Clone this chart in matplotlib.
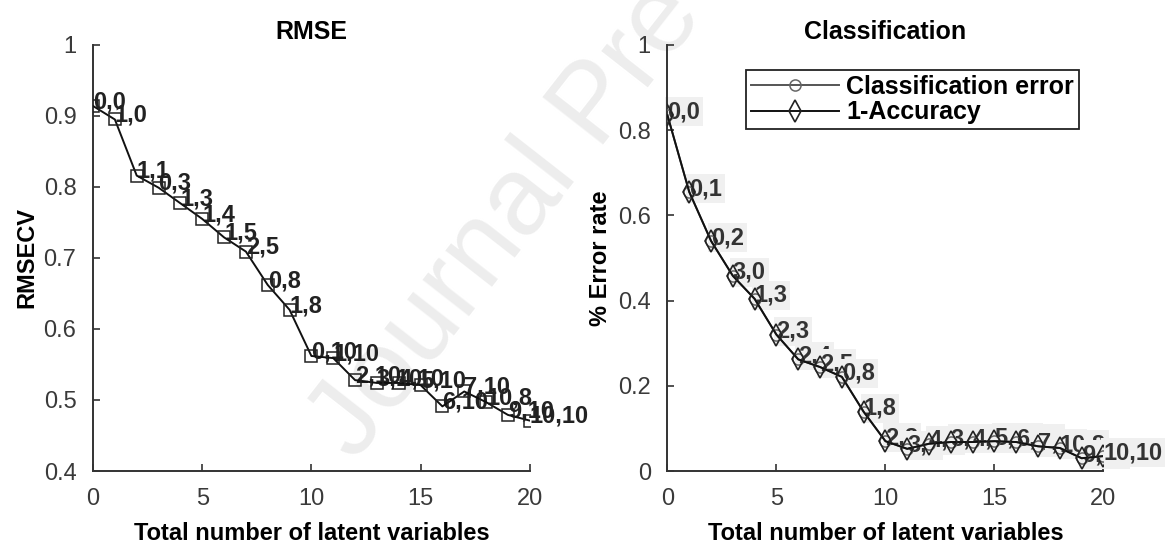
import matplotlib.pyplot as plt

plt.rcParams['font.family'] = ['Liberation Sans', 'DejaVu Sans']

# RMSE panel: RMSECV against total number of latent variables
lv = list(range(21))
rmsecv = [0.914, 0.895, 0.816, 0.799, 0.777, 0.755, 0.729, 0.709, 0.662, 0.627,
          0.562, 0.559, 0.528, 0.524, 0.524, 0.521, 0.491, 0.512, 0.497, 0.479, 0.471]
rmse_labels = ['0,0', '1,0', '1,1', '0,3', '1,3', '1,4', '1,5', '2,5', '0,8', '1,8',
               '0,10', '1,10', '2,10', '3,10', '4,10', '5,10', '6,10', '7,10', '10,8', '9,10', '10,10']

# Classification panel: error rate against total number of latent variables
class_err = [0.835, 0.655, 0.54, 0.458, 0.404, 0.32, 0.262, 0.244, 0.221, 0.139,
             0.07, 0.052, 0.064, 0.068, 0.068, 0.07, 0.068, 0.058, 0.054, 0.03, 0.035]
one_minus_acc = class_err
class_labels = ['0,0', '0,1', '0,2', '3,0', '1,3', '2,3', '2,4', '2,5', '0,8', '1,8',
                '2,8', '3,8', '4,8', '3,10', '4,10', '5,10', '6,10', '7,10', '10,8', '9,10', '10,10']

fig = plt.figure(figsize=(11.72, 5.48), dpi=100)
ax1 = fig.add_axes([0.0794, 0.1405, 0.3726, 0.7775])
ax2 = fig.add_axes([0.5695, 0.1405, 0.372, 0.7775])

# watermark behind both panels
fig.text(0.318, 0.13, 'Journal Pre-proof', fontsize=80, color='#ededed',
         rotation=52, rotation_mode='anchor', ha='left', va='bottom', zorder=-5)

for ax in (ax1, ax2):
    ax.patch.set_visible(False)
    ax.spines['top'].set_visible(False)
    ax.spines['right'].set_visible(False)
    for s in ('left', 'bottom'):
        ax.spines[s].set_color('#333333')
        ax.spines[s].set_linewidth(1.4)
    ax.tick_params(direction='in', length=5, width=1.2, color='#333333',
                   labelsize=17, labelcolor='#3a3a3a', pad=12)
    ax.set_xlim(0, 20)
    ax.set_xticks([0, 5, 10, 15, 20])
    ax.set_xlabel('Total number of latent variables', fontsize=17, fontweight='bold', labelpad=9)

ax1.plot(lv, rmsecv, color='#111111', lw=1.4, marker='s', ms=8, mfc='none', mec='#222222',
         mew=1.1, zorder=3)
for x, y, t in zip(lv, rmsecv, rmse_labels):
    ax1.text(x, y + 0.006, t, fontsize=17, fontweight='bold', color='#222222',
             ha='left', va='center', zorder=2)
ax1.set_ylim(0.4, 1)
ax1.set_yticks([0.4, 0.5, 0.6, 0.7, 0.8, 0.9, 1])
ax1.set_yticklabels(['0.4', '0.5', '0.6', '0.7', '0.8', '0.9', '1'])
ax1.set_ylabel('RMSECV', fontsize=17, fontweight='bold', labelpad=4)
ax1.set_title('RMSE', fontsize=18, fontweight='bold', pad=4)

ax2.plot(lv, class_err, color='#555555', lw=1.4, marker='o', ms=8, mfc='none', mec='#666666',
         mew=1.1, label='Classification error', zorder=3)
ax2.plot(lv, one_minus_acc, color='#111111', lw=1.4, marker='d', ms=11, mfc='none', mec='#222222',
         mew=1.2, label='1-Accuracy', zorder=4)
for x, y, t in zip(lv, one_minus_acc, class_labels):
    ax2.text(x, y + 0.008, t, fontsize=17, fontweight='bold', color='#333333',
             ha='left', va='center', zorder=2,
             bbox=dict(facecolor='#f0f0f0', edgecolor='none', pad=2))
ax2.set_ylim(0, 1)
ax2.set_yticks([0, 0.2, 0.4, 0.6, 0.8, 1])
ax2.set_yticklabels(['0', '0.2', '0.4', '0.6', '0.8', '1'])
ax2.set_ylabel('% Error rate', fontsize=17, fontweight='bold', labelpad=4)
ax2.set_title('Classification', fontsize=18, fontweight='bold', pad=4)

leg = ax2.legend(loc='upper left', bbox_to_anchor=(0.181, 0.941), borderaxespad=0,
                 fancybox=False, framealpha=1, edgecolor='#222222', handlelength=3.5,
                 prop={'size': 18, 'weight': 'bold'}, borderpad=0.2, labelspacing=0.05,
                 handletextpad=0.3)
leg.get_frame().set_linewidth(1.3)

fig.savefig('out.png', dpi=100)
